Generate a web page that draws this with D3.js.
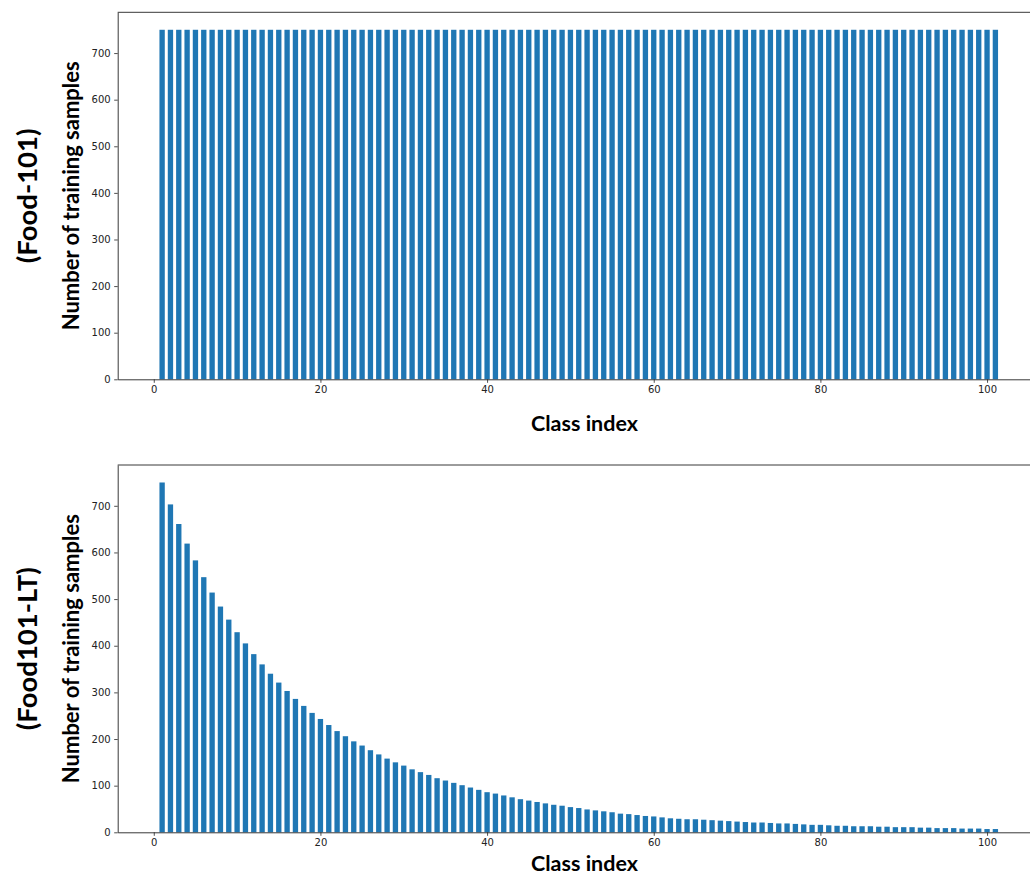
<!DOCTYPE html>
<meta charset="utf-8">
<script src="https://d3js.org/d3.v7.min.js"></script>
<style>
  body { margin: 0; background: #fff; overflow: hidden; }
  .tick text { font-family: "DejaVu Sans"; font-size: 10px; fill: #222; }
  .tick line { stroke: #222; stroke-width: 0.8; }
  .domain { stroke: #222; stroke-width: 0.9; }
  .lbl { font-family: Lato, "Open Sans", sans-serif; font-weight: bold; fill: #000; }
</style>
<div id="chart"></div>
<script>
// class indices 1..101
var classIndex = d3.range(1, 102);

// Food-101: balanced, 750 images per class
var food101 = [
  750, 750, 750, 750, 750, 750, 750, 750, 750, 750,
  750, 750, 750, 750, 750, 750, 750, 750, 750, 750,
  750, 750, 750, 750, 750, 750, 750, 750, 750, 750,
  750, 750, 750, 750, 750, 750, 750, 750, 750, 750,
  750, 750, 750, 750, 750, 750, 750, 750, 750, 750,
  750, 750, 750, 750, 750, 750, 750, 750, 750, 750,
  750, 750, 750, 750, 750, 750, 750, 750, 750, 750,
  750, 750, 750, 750, 750, 750, 750, 750, 750, 750,
  750, 750, 750, 750, 750, 750, 750, 750, 750, 750,
  750, 750, 750, 750, 750, 750, 750, 750, 750, 750,
  750
];

// Food101-LT: long-tailed counts
var food101LT = [
  750, 703, 661, 619, 583, 547, 514, 484, 456, 429,
  405, 382, 360, 340, 321, 303, 286, 271, 256, 243,
  230, 217, 206, 195, 186, 176, 167, 158, 150, 143,
  135, 129, 123, 116, 111, 106, 101, 96, 91, 86,
  83, 79, 75, 71, 68, 65, 62, 59, 57, 54,
  52, 49, 47, 45, 43, 40, 39, 37, 35, 34,
  32, 30, 29, 28, 28, 27, 26, 25, 24, 23,
  22, 21, 21, 20, 19, 19, 18, 17, 16, 16,
  15, 14, 14, 13, 13, 13, 12, 12, 11, 11,
  11, 10, 10, 9, 9, 9, 8, 8, 8, 7,
  7
];

var xTicks = [0, 20, 40, 60, 80, 100];
var yTicks = [0, 100, 200, 300, 400, 500, 600, 700];

var W = 1030, H = 875;
var svg = d3.select("#chart").append("svg")
  .attr("width", W)
  .attr("height", H);

var left = 117.7, right = 1039.8;
var barW = 0.64;

var x = d3.scaleLinear().domain([-4.33, 106.33]).range([left, right]);

function panel(values, top, bottom, name) {
  var y = d3.scaleLinear().domain([0, 787.5]).range([bottom, top]);
  var g = svg.append("g");

  g.selectAll("rect")
    .data(values)
    .enter()
    .append("rect")
      .attr("x", function(d, i) { return x(classIndex[i] - barW / 2); })
      .attr("width", x(barW) - x(0))
      .attr("y", function(d) { return y(d); })
      .attr("height", function(d) { return bottom - y(d); })
      .attr("fill", "#1f77b4");

  // top spine
  g.append("line")
    .attr("x1", left).attr("x2", W)
    .attr("y1", top).attr("y2", top)
    .attr("stroke", "#222").attr("stroke-width", 0.9);

  g.append("g")
    .attr("transform", "translate(0," + bottom + ")")
    .call(d3.axisBottom(x).tickValues(xTicks).tickSizeInner(3.5).tickSizeOuter(0).tickPadding(3.5));

  g.append("g")
    .attr("transform", "translate(" + left + ",0)")
    .call(d3.axisLeft(y).tickValues(yTicks).tickSizeInner(3.5).tickSizeOuter(0).tickPadding(3.5));

  var mid = (top + bottom) / 2;
  g.append("text")
    .attr("class", "lbl")
    .attr("transform", "translate(79," + mid + ") rotate(-90)")
    .attr("text-anchor", "middle")
    .style("font-size", "22px")
    .text("Number of training samples");

  g.append("text")
    .attr("class", "lbl")
    .attr("transform", "translate(37," + mid + ") rotate(-90)")
    .attr("text-anchor", "middle")
    .style("font-size", "27.5px")
    .text(name);
}

panel(food101, 12.3, 379.3, "(Food-101)");
panel(food101LT, 465, 832.3, "(Food101-LT)");

svg.append("text").attr("class", "lbl")
  .attr("x", 584.5).attr("y", 431)
  .attr("text-anchor", "middle")
  .style("font-size", "21.5px")
  .text("Class index");

svg.append("text").attr("class", "lbl")
  .attr("x", 584.5).attr("y", 871)
  .attr("text-anchor", "middle")
  .style("font-size", "21.5px")
  .text("Class index");
</script>
